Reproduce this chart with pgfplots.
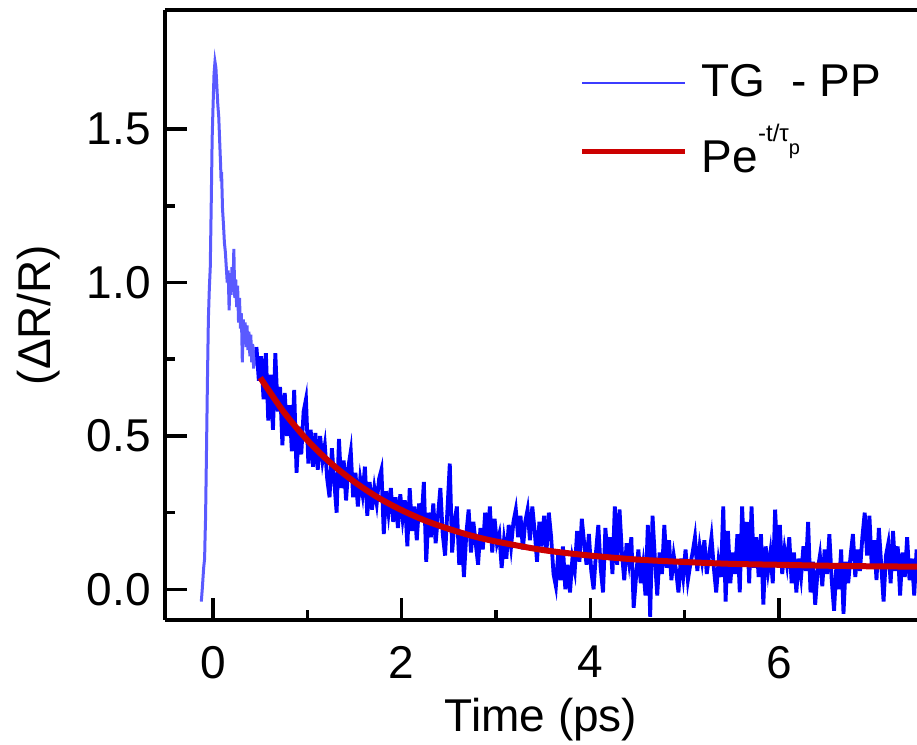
\documentclass[border=0pt]{standalone}
\usepackage{fontspec}
\setmainfont{Liberation Sans}
\usepackage{pgfplots}
\pgfplotsset{compat=1.18}

\definecolor{tracelight}{RGB}{90,90,255}
\definecolor{tracedark}{RGB}{0,0,255}
\definecolor{legblue}{RGB}{60,60,255}
\definecolor{fitred}{RGB}{204,0,0}

\newcommand{\labfont}{\fontsize{11.5}{13}\selectfont}

\begin{document}
\begin{tikzpicture}
\begin{axis}[
  x=23.575pt, y=76.675pt,
  xmin=-0.51, xmax=7.465,
  ymin=-0.1, ymax=1.889,
  axis y line*=left,
  xtick pos=bottom,
  tick align=inside,
  xtick={0,2,4,6},
  ytick={0,0.5,1,1.5},
  minor x tick num=1,
  minor y tick num=1,
  major tick length=5.5pt,
  minor tick length=2.6pt,
  every tick/.style={black, line width=0.9pt},
  axis line style={black, line width=1pt},
  /pgf/number format/assume math mode=true,
  tick label style={font=\labfont},
  yticklabel style={/pgf/number format/.cd, fixed, fixed zerofill, precision=1},
  xticklabel style={yshift=-3pt},
  xlabel={Time (ps)},
  ylabel={(ΔR/R)},
  xlabel style={font=\labfont, at={(axis description cs:0.5,-0.164)}, anchor=center},
  ylabel style={font=\labfont, at={(axis description cs:-0.1676,0.5)}, anchor=center},
  legend style={draw=none, fill=none, at={(axis cs:3.887,1.712)}, anchor=north west,
    inner sep=0pt, outer sep=0pt, row sep=5.5pt, column sep=3.5pt,
    nodes={inner sep=0pt, font=\labfont}},
  legend cell align=left,
  legend image code/.code={\draw[#1] (0pt,0pt) -- (25.75pt,0pt);},
]

% rising edge and fast part of the trace
\addplot[tracelight, line width=0.75pt, forget plot] table {
-0.125 -0.04
-0.115 0.00
-0.100 0.07
-0.090 0.10
-0.085 0.17
-0.080 0.23
-0.070 0.45
-0.060 0.68
-0.050 0.88
-0.040 0.98
-0.030 1.05
-0.020 1.25
-0.010 1.47
0.000 1.58
0.010 1.68
0.020 1.72
0.030 1.70
0.040 1.64
0.050 1.58
0.060 1.54
0.070 1.46
0.080 1.38
0.085 1.33
0.090 1.36
0.100 1.24
0.110 1.19
0.120 1.13
0.130 1.10
0.140 1.05
0.150 1.00
0.160 1.04
0.170 0.91
0.180 1.02
0.190 0.96
0.200 1.05
0.210 0.97
0.220 1.11
0.230 0.95
0.240 1.01
0.250 0.92
0.260 0.99
0.270 0.87
0.280 0.95
0.290 0.85
0.300 0.90
0.310 0.74
0.320 0.88
0.330 0.80
0.340 0.87
0.350 0.79
0.360 0.86
0.370 0.78
0.380 0.84
0.390 0.76
0.400 0.83
0.410 0.74
0.420 0.80
0.430 0.72
0.440 0.78
0.450 0.73
0.460 0.79
};

% slow part of the trace
\addplot[tracedark, line width=0.95pt, forget plot] table {
0.460 0.79
0.485 0.68
0.510 0.76
0.535 0.62
0.560 0.77
0.585 0.55
0.610 0.70
0.635 0.52
0.660 0.77
0.685 0.58
0.710 0.66
0.735 0.47
0.760 0.64
0.785 0.50
0.810 0.60
0.835 0.45
0.860 0.65
0.885 0.38
0.910 0.53
0.935 0.44
0.960 0.58
0.985 0.62
1.010 0.41
1.035 0.52
1.060 0.40
1.085 0.51
1.110 0.39
1.135 0.50
1.160 0.42
1.185 0.47
1.210 0.36
1.235 0.30
1.260 0.46
1.285 0.35
1.310 0.25
1.335 0.49
1.360 0.33
1.385 0.42
1.410 0.29
1.435 0.40
1.460 0.45
1.485 0.30
1.510 0.38
1.535 0.27
1.560 0.36
1.585 0.31
1.610 0.40
1.635 0.24
1.660 0.35
1.685 0.26
1.710 0.33
1.735 0.28
1.760 0.36
1.785 0.39
1.810 0.18
1.835 0.32
1.860 0.25
1.885 0.33
1.910 0.22
1.935 0.30
1.960 0.20
1.985 0.31
2.010 0.23
2.035 0.29
2.060 0.14
2.085 0.33
2.110 0.19
2.135 0.27
2.160 0.16
2.185 0.28
2.210 0.22
2.235 0.35
2.260 0.09
2.285 0.25
2.310 0.17
2.335 0.28
2.360 0.15
2.385 0.24
2.410 0.33
2.435 0.18
2.460 0.11
2.485 0.26
2.510 0.41
2.535 0.12
2.560 0.22
2.585 0.27
2.610 0.08
2.635 0.19
2.660 0.04
2.685 0.18
2.710 0.26
2.735 0.12
2.760 0.22
2.785 0.15
2.810 0.08
2.835 0.20
2.860 0.13
2.885 0.25
2.910 0.16
2.935 0.27
2.960 0.12
2.985 0.23
3.010 0.15
3.035 0.18
3.060 0.07
3.085 0.16
3.110 0.10
3.135 0.21
3.160 0.14
3.185 0.22
3.210 0.26
3.235 0.17
3.260 0.24
3.285 0.13
3.310 0.22
3.335 0.26
3.360 0.16
3.385 0.27
3.410 0.19
3.435 0.09
3.460 0.22
3.485 0.14
3.510 0.24
3.535 0.12
3.560 0.25
3.585 0.17
3.610 0.05
3.635 0.01
3.660 0.12
3.685 0.03
3.710 0.14
3.735 0.00
3.760 0.08
3.785 -0.01
3.810 0.10
3.835 0.06
3.860 0.19
3.885 0.09
3.910 0.23
3.935 0.15
3.960 0.08
3.985 0.18
4.010 0.06
4.035 0.00
4.060 0.12
4.085 0.21
4.110 0.07
4.135 -0.01
4.160 0.20
4.185 0.10
4.210 0.17
4.235 0.05
4.260 0.27
4.285 0.08
4.310 0.26
4.335 0.12
4.360 0.03
4.385 0.15
4.410 0.09
4.435 0.17
4.460 -0.06
4.485 0.04
4.510 0.13
4.535 0.02
4.560 0.08
4.585 -0.02
4.610 0.21
4.635 -0.09
4.660 0.24
4.685 0.10
4.710 -0.02
4.735 0.12
4.760 0.05
4.785 0.21
4.810 0.07
4.835 0.16
4.860 0.03
4.885 0.11
4.910 0.06
4.935 -0.01
4.960 0.10
4.985 0.04
5.010 0.13
5.035 0.03
5.060 0.08
5.085 0.12
5.110 0.17
5.135 0.06
5.160 0.14
5.185 0.09
5.210 0.16
5.235 0.05
5.260 0.11
5.285 0.17
5.310 0.07
5.335 -0.01
5.360 0.09
5.385 0.04
5.410 0.27
5.435 -0.04
5.460 0.19
5.485 0.02
5.510 0.12
5.535 0.05
5.560 0.18
5.585 -0.01
5.610 0.27
5.635 0.08
5.660 0.22
5.685 0.02
5.710 0.27
5.735 0.07
5.760 0.17
5.785 0.04
5.810 0.18
5.835 -0.05
5.860 0.14
5.885 0.06
5.910 0.12
5.935 0.02
5.960 0.26
5.985 0.09
6.010 0.21
6.035 0.05
6.060 0.13
6.085 0.08
6.110 0.17
6.135 0.02
6.160 0.12
6.185 -0.01
6.210 0.10
6.235 0.04
6.260 0.14
6.285 0.06
6.310 0.22
6.335 -0.01
6.360 0.09
6.385 -0.05
6.410 0.06
6.435 0.11
6.460 0.01
6.485 0.13
6.510 0.05
6.535 0.18
6.560 0.03
6.585 -0.07
6.610 0.08
6.635 0.00
6.660 0.13
6.685 -0.08
6.710 0.09
6.735 0.02
6.760 0.11
6.785 0.18
6.810 0.04
6.835 0.13
6.860 0.06
6.885 0.17
6.910 0.25
6.935 0.11
6.960 0.24
6.985 0.07
7.010 0.16
7.035 0.03
7.060 0.20
7.085 0.08
7.110 -0.04
7.135 0.11
7.160 0.15
7.185 0.02
7.210 0.19
7.235 0.06
7.260 0.14
7.285 -0.02
7.310 0.12
7.335 0.04
7.360 0.17
7.385 0.03
7.410 0.10
7.435 -0.02
7.460 0.13
};

% single-exponential fit
\addplot[fitred, line width=1.5pt, smooth, forget plot] table {
0.50 0.690
0.75 0.578
1.00 0.486
1.25 0.411
1.50 0.350
1.75 0.299
2.00 0.258
2.25 0.224
2.50 0.197
2.75 0.174
3.00 0.156
3.50 0.128
4.00 0.110
4.50 0.097
5.00 0.089
5.50 0.083
6.00 0.080
6.50 0.077
7.00 0.075
7.50 0.074
};

\addlegendimage{legblue, line width=0.55pt}
\addlegendentry{TG\ \ - PP}
\addlegendimage{fitred, line width=1.3pt}
\addlegendentry{Pe\raisebox{7.75pt}{\fontsize{6}{6}\selectfont -t/τ\raisebox{-3.2pt}{\fontsize{5}{5}\selectfont p}}}

% top frame line (the right edge lies outside the shown range)
\draw[black, line width=1pt] (rel axis cs:0,1) -- (rel axis cs:1,1);
\end{axis}
\pgfresetboundingbox
\path[use as bounding box] (-41.25pt,-31.25pt) rectangle (188pt,155pt);
\end{tikzpicture}
\end{document}
